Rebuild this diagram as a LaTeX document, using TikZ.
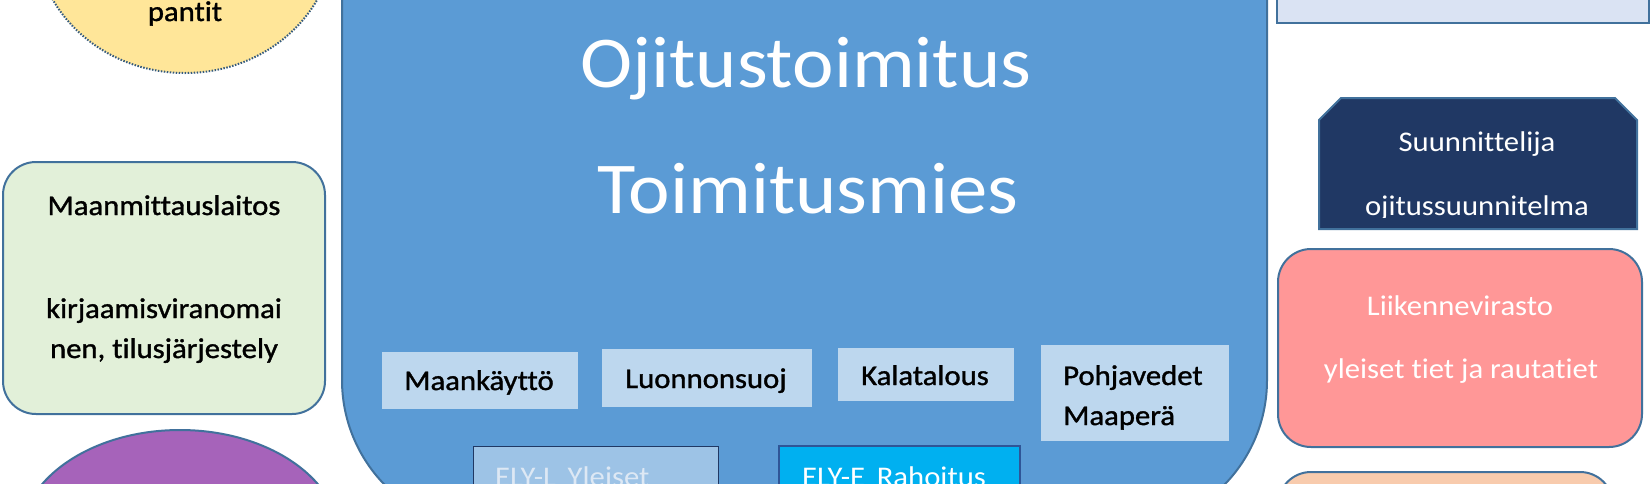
\documentclass[tikz,border=0pt]{standalone}
\usepackage{fontspec}
\setmainfont[FakeStretch=1.077, Ligatures=NoCommon]{Carlito}
\newfontfamily\heavyfam[FakeStretch=1.077, FakeBold=1.2, Ligatures=NoCommon]{Carlito}
\newcommand\fntS{\fontsize{28.5}{34}\selectfont}
\newcommand\fntK{\heavyfam\fontsize{28.5}{34}\selectfont}
\newcommand\fntL{\fontsize{73}{80}\selectfont}
\definecolor{edgeblue}{HTML}{41719C}
\definecolor{mainblue}{HTML}{5B9BD5}
\definecolor{innerblue}{HTML}{BDD7EE}
\definecolor{elyl}{HTML}{9DC3E6}
\definecolor{elye}{HTML}{00B0F0}
\definecolor{elyeedge}{HTML}{2F5597}
\definecolor{navy}{HTML}{203864}
\definecolor{yellowfill}{HTML}{FFE699}
\definecolor{greenfill}{HTML}{E2F0D9}
\definecolor{purplefill}{HTML}{A663BA}
\definecolor{pinkfill}{HTML}{FF9797}
\definecolor{peachfill}{HTML}{F8CBAD}
\definecolor{topboxfill}{HTML}{DAE3F3}
\definecolor{lighttext}{HTML}{DDE8F4}
\tikzset{
  shapeline/.style={draw=edgeblue, line width=2pt},
  txt/.style={inner sep=0pt, anchor=base, font=\fntK, text=black},
  txtw/.style={inner sep=0pt, anchor=base, font=\fntS, text=white},
  bigtxt/.style={inner sep=0pt, anchor=base, font=\fntL, text=white},
}
\begin{document}
\begin{tikzpicture}[x=1pt, y=-1pt]
\useasboundingbox (0,0) rectangle (1651,483);
\clip (0,0) rectangle (1651,483);
\fill[white] (0,0) rectangle (1651,483);

% yellow ellipse (top left)
\draw[draw=edgeblue!80!black, line width=2pt, dash pattern=on 1.5pt off 1.5pt, fill=yellowfill]
  (185,-66) ellipse [x radius=150pt, y radius=139pt];
\node[txt] (pantit) at (185,21) {pantit};

% green box
\draw[shapeline, fill=greenfill, rounded corners=33pt] (3,162) rectangle (325,414);
\node[txt] (mml) at (164,215) {Maanmittauslaitos};
\node[txt] (kirj1) at (164,318) {kirjaamisviranomai};
\node[txt] (kirj2) at (164,358) {nen, tilusjärjestely};

% purple ellipse
\draw[shapeline, fill=purplefill] (180,540) ellipse [x radius=160pt, y radius=110pt];

% main blue box
\draw[shapeline, fill=mainblue, rounded corners=150pt] (342,-300) rectangle (1267,530);
\node[bigtxt] (ojit) at (806,87) {Ojitustoimitus};
\node[bigtxt] (toim) at (808,213) {Toimitusmies};

% inner boxes
\fill[innerblue] (382,352) rectangle (578,409);
\node[txt] (maank) at (479,390) {Maankäyttö};
\fill[innerblue] (602,349) rectangle (812,407);
\node[txt] (luon) at (706,388) {Luonnonsuoj};
\fill[innerblue] (838,348) rectangle (1014,401);
\node[txt] (kala) at (925,385) {Kalatalous};
\fill[innerblue] (1041,345) rectangle (1229,441);
\node[txt, anchor=base west] (pohja) at (1063,385) {Pohjavedet};
\node[txt, anchor=base west] (maap) at (1063,425) {Maaperä};

% ELY boxes
\draw[draw=navy, line width=1pt, fill=elyl] (473,446) rectangle (718,520);
\node[txtw, anchor=base west, text=lighttext] (elyl) at (495,486) {ELY-L\, Yleiset};
\draw[draw=elyeedge, line width=2.5pt, fill=elye] (779,446) rectangle (1020,520);
\node[txtw, anchor=base west] (elye) at (802,486) {ELY-E\, Rahoitus};

% top right box
\draw[shapeline, fill=topboxfill] (1277,-50) rectangle (1649,23);

% Suunnittelija box
\draw[shapeline, fill=navy] (1319,229) -- (1319,120) -- (1341,98) -- (1615,98) -- (1637,120) -- (1637,229) -- cycle;
\node[txtw] (suun) at (1477,151) {Suunnittelija};
\begin{scope}
  \clip (1319,98) rectangle (1637,217);
  \node[txtw] (ojsuun) at (1477,215) {ojitussuunnitelma};
\end{scope}

% pink box
\draw[shapeline, fill=pinkfill, rounded corners=33pt] (1278,249) rectangle (1642,447);
\node[txtw] (liik) at (1460,315) {Liikennevirasto};
\node[txtw] (yleiset) at (1461,378) {yleiset tiet ja rautatiet};

% peach box
\draw[shapeline, fill=peachfill, rounded corners=33pt] (1278,472) rectangle (1613,700);
\end{tikzpicture}
\end{document}
